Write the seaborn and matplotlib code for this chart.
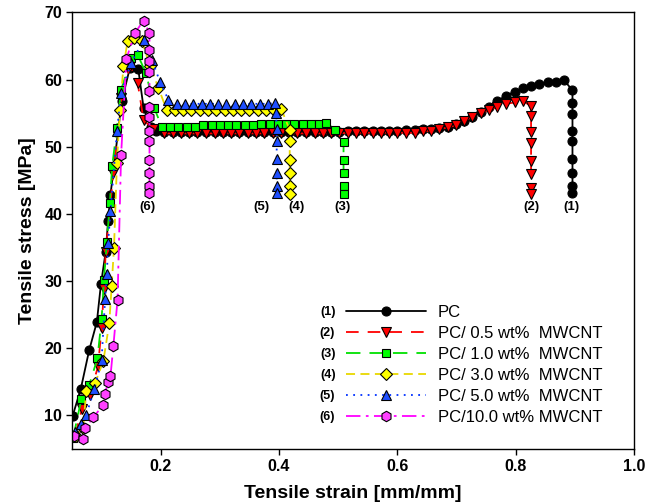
import matplotlib
matplotlib.use("Agg")
import matplotlib.pyplot as plt
from matplotlib import font_manager
import pandas as pd
import seaborn as sns

# ---------------- data: tensile strain [mm/mm] / tensile stress [MPa] ----------------
pc_strain = [0.051, 0.065, 0.079, 0.092, 0.099, 0.107, 0.111, 0.115, 0.134, 0.148, 0.162, 0.171, 0.183,
             0.192, 0.206, 0.220, 0.234, 0.248, 0.262, 0.276, 0.291, 0.305, 0.319, 0.333, 0.347, 0.361,
             0.375, 0.389, 0.403, 0.417, 0.431, 0.445, 0.460, 0.474, 0.488, 0.502, 0.516, 0.530, 0.544,
             0.558, 0.572, 0.586, 0.600, 0.614, 0.629, 0.643, 0.657, 0.671, 0.685, 0.699, 0.713, 0.727,
             0.741, 0.755, 0.769, 0.783, 0.798, 0.812, 0.826, 0.840, 0.854, 0.868, 0.882,
             0.896, 0.896, 0.896, 0.896, 0.896, 0.896, 0.896, 0.896, 0.896]
pc_stress = [9.9, 14.0, 19.7, 23.9, 29.6, 34.4, 38.9, 42.8, 56.8, 61.8, 61.6, 55.8, 52.9,
             52.3, 52.2, 52.2, 52.2, 52.2, 52.2, 52.2, 52.2, 52.2, 52.2, 52.2, 52.2, 52.2,
             52.2, 52.2, 52.2, 52.2, 52.2, 52.2, 52.2, 52.2, 52.2, 52.2, 52.3, 52.3, 52.3,
             52.3, 52.3, 52.4, 52.4, 52.5, 52.5, 52.6, 52.7, 52.8, 53.0, 53.4, 53.9, 54.5,
             55.2, 56.0, 56.8, 57.6, 58.2, 58.7, 59.1, 59.4, 59.6, 59.7, 59.9,
             58.4, 56.5, 54.9, 52.3, 50.9, 48.2, 46.1, 44.2, 43.1]

cnt05_strain = [0.055, 0.067, 0.080, 0.094, 0.100, 0.104, 0.107, 0.120, 0.133, 0.148, 0.161, 0.171, 0.187,
                0.206, 0.220, 0.234, 0.248, 0.262, 0.276, 0.291, 0.305, 0.319, 0.333, 0.347, 0.361,
                0.375, 0.389, 0.403, 0.417, 0.431, 0.445, 0.460, 0.474, 0.488, 0.502, 0.516, 0.530, 0.544,
                0.558, 0.572, 0.586, 0.600, 0.614, 0.629, 0.643, 0.657, 0.671, 0.685, 0.699, 0.713, 0.727,
                0.741, 0.755, 0.769, 0.783, 0.798, 0.812,
                0.826, 0.826, 0.826, 0.826, 0.826, 0.826, 0.826, 0.826]
cnt05_stress = [7.0, 11.0, 13.0, 17.3, 23.0, 28.8, 34.4, 46.1, 57.3, 62.0, 59.5, 54.0, 52.6,
                52.0, 52.0, 52.0, 52.0, 52.0, 52.0, 52.0, 52.0, 52.0, 52.0, 52.0, 52.0,
                52.0, 52.0, 52.0, 52.0, 52.0, 52.0, 52.0, 52.0, 52.0, 52.0, 52.1, 52.1, 52.1,
                52.1, 52.1, 52.1, 52.1, 52.1, 52.1, 52.3, 52.4, 52.6, 52.9, 53.2, 53.8, 54.5,
                55.0, 55.5, 55.9, 56.4, 56.6, 56.8,
                56.1, 54.6, 52.2, 50.6, 47.9, 45.9, 43.9, 42.9]

cnt10_strain = [0.052, 0.066, 0.079, 0.093, 0.100, 0.104, 0.109, 0.114, 0.118, 0.126, 0.133, 0.150, 0.161,
                0.175, 0.189, 0.202, 0.216, 0.230, 0.244, 0.258, 0.272, 0.286, 0.300, 0.314, 0.328,
                0.342, 0.356, 0.370, 0.384, 0.398, 0.412, 0.426, 0.440, 0.454, 0.468, 0.480, 0.495,
                0.509, 0.509, 0.509, 0.509, 0.509]
cnt10_stress = [6.7, 12.5, 14.5, 18.5, 24.3, 30.2, 35.9, 41.7, 47.2, 52.8, 58.5, 63.2, 63.7,
                61.0, 55.8, 52.9, 52.9, 52.9, 52.9, 52.9, 53.3, 53.3, 53.3, 53.3, 53.3,
                53.3, 53.3, 53.4, 53.4, 53.4, 53.4, 53.4, 53.4, 53.4, 53.4, 53.6, 52.5,
                50.7, 48.1, 46.1, 44.2, 43.0]

cnt30_strain = [0.057, 0.069, 0.074, 0.089, 0.103, 0.113, 0.117, 0.121, 0.126, 0.131, 0.137, 0.144, 0.155,
                0.168, 0.182, 0.196, 0.210, 0.224, 0.238, 0.252, 0.266, 0.280, 0.294, 0.308, 0.322,
                0.336, 0.350, 0.364, 0.378, 0.392, 0.404,
                0.418, 0.418, 0.418, 0.418, 0.418, 0.418]
cnt30_stress = [7.0, 8.2, 13.6, 14.8, 18.1, 23.7, 29.2, 35.0, 47.6, 55.5, 62.0, 65.7, 66.2,
                65.8, 62.0, 58.8, 55.5, 55.5, 55.5, 55.5, 55.5, 55.5, 55.5, 55.5, 55.5,
                55.5, 55.5, 55.5, 55.5, 55.5, 55.6,
                52.5, 50.9, 48.1, 46.1, 44.1, 43.0]

cnt50_strain = [0.055, 0.066, 0.074, 0.088, 0.100, 0.106, 0.109, 0.111, 0.115, 0.126, 0.133, 0.150, 0.171,
                0.185, 0.199, 0.213, 0.227, 0.241, 0.255, 0.269, 0.283, 0.297, 0.311, 0.325, 0.339,
                0.353, 0.367, 0.381, 0.393, 0.395,
                0.396, 0.396, 0.396, 0.396, 0.396, 0.396]
cnt50_stress = [7.5, 8.7, 10.1, 13.9, 18.2, 27.4, 31.0, 35.7, 40.4, 52.3, 58.0, 62.5, 65.9,
                63.0, 59.6, 57.0, 56.4, 56.4, 56.4, 56.4, 56.4, 56.4, 56.4, 56.4, 56.4,
                56.4, 56.4, 56.4, 56.5, 55.0,
                52.6, 50.9, 48.2, 46.1, 44.2, 43.1]

cnt100_strain = [0.053, 0.068, 0.072, 0.086, 0.102, 0.106, 0.111, 0.115, 0.120, 0.127, 0.133, 0.142, 0.156,
                 0.171, 0.181, 0.181, 0.181, 0.181, 0.181, 0.181, 0.181, 0.181, 0.181, 0.181, 0.181,
                 0.181, 0.181]
cnt100_stress = [7.0, 6.5, 8.1, 9.7, 11.5, 13.2, 15.0, 15.8, 20.4, 27.2, 48.8, 63.1, 66.9,
                 68.8, 66.9, 64.4, 62.8, 61.2, 58.3, 56.0, 54.5, 52.4, 50.8, 48.1, 46.1,
                 44.1, 43.1]

series_tags = ["(1)", "(2)", "(3)", "(4)", "(5)", "(6)"]
series_names = ["PC", "PC/ 0.5 wt%  MWCNT", "PC/ 1.0 wt%  MWCNT", "PC/ 3.0 wt%  MWCNT",
                "PC/ 5.0 wt%  MWCNT", "PC/10.0 wt% MWCNT"]
break_strain = [0.895, 0.826, 0.508, 0.430, 0.371, 0.178]

x_ticks = [0.2, 0.4, 0.6, 0.8, 1.0]
y_ticks = [10, 20, 30, 40, 50, 60, 70]


def first_font(names):
    for name in names:
        try:
            font_manager.findfont(font_manager.FontProperties(family=name),
                                  fallback_to_default=False)
            return name
        except Exception:
            continue
    return "DejaVu Sans"


sns.set_style("ticks", {"text.color": "black", "axes.labelcolor": "black",
                        "xtick.color": "black", "ytick.color": "black",
                        "axes.edgecolor": "black"})
sans = first_font(["Liberation Sans", "Arial", "DejaVu Sans"])
narrow = first_font(["Liberation Sans Narrow", "Liberation Sans", "DejaVu Sans"])
plt.rcParams["font.family"] = [sans, "DejaVu Sans"]
plt.rcParams["text.color"] = "black"

fig = plt.figure(figsize=(6.48, 5.04), dpi=100)
ax = fig.add_axes([0.1111, 0.1091, 0.8673, 0.8661])

styles = [
    dict(color="black", ls="-", marker="o", mfc="black", ms=6.5),
    dict(color="#FF0000", ls=(0, (7, 5)), marker="v", mfc="#FF0000", ms=7),
    dict(color="#00E000", ls=(0, (8, 5)), marker="s", mfc="#00FF00", ms=6),
    dict(color="#E8D800", ls=(0, (5, 3)), marker="D", mfc="#FFFF00", ms=6),
    dict(color="#0030FF", ls=(0, (1, 3)), marker="^", mfc="#1F4FFF", ms=7),
    dict(color="#FF00FF", ls=(0, (8, 3, 1.5, 3)), marker="h", mfc="#FF40FF", ms=7.5),
]
curves = [(pc_strain, pc_stress), (cnt05_strain, cnt05_stress), (cnt10_strain, cnt10_stress),
          (cnt30_strain, cnt30_stress), (cnt50_strain, cnt50_stress), (cnt100_strain, cnt100_stress)]

handles = []
for (xs, ys), st in zip(curves, styles):
    df = pd.DataFrame({"strain": xs, "stress": ys})
    sns.lineplot(data=df, x="strain", y="stress", ax=ax, sort=False, estimator=None,
                 color=st["color"], linestyle=st["ls"], linewidth=1.3,
                 marker=st["marker"], markersize=st["ms"], markerfacecolor=st["mfc"],
                 markeredgecolor="black", markeredgewidth=0.8, legend=False)
    handles.append(ax.lines[-1])

# break-point tags under each curve
for tag, xb in zip(series_tags, break_strain):
    ax.text(xb, 41.0, tag, ha="center", va="center", fontsize=9.5, fontweight="bold",
            color="black", family=[sans, "DejaVu Sans"])

ax.set_xlim(0.05, 1.0)
ax.set_ylim(5, 70)
ax.set_xticks(x_ticks)
ax.set_xticklabels([f"{t:.1f}" for t in x_ticks])
ax.set_yticks(y_ticks)
ax.set_yticklabels([str(t) for t in y_ticks])
for lab in ax.get_xticklabels() + ax.get_yticklabels():
    lab.set_fontfamily([narrow, "DejaVu Sans"])
    lab.set_fontweight("bold")
    lab.set_fontsize(11.5)
    lab.set_color("black")
ax.tick_params(direction="out", length=4, width=1, color="black", labelcolor="black",
               pad=3, top=False, right=False)
for sp in ax.spines.values():
    sp.set_visible(True)
    sp.set_linewidth(1.0)
    sp.set_color("black")

ax.set_xlabel("Tensile strain [mm/mm]", fontsize=14, fontweight="bold", color="black",
              family=[narrow, "DejaVu Sans"], labelpad=8)
ax.set_ylabel("Tensile stress [MPa]", fontsize=14, fontweight="bold", color="black",
              family=[narrow, "DejaVu Sans"], labelpad=6)

leg = ax.legend(handles=handles, labels=series_names, loc="upper left",
                bbox_to_anchor=(0.4875, 0.330), frameon=False, fontsize=12,
                handlelength=4.8, handletextpad=0.7, labelspacing=0.36,
                borderpad=0, borderaxespad=0, numpoints=1)
for t in leg.get_texts():
    t.set_color("black")

# row numbers to the left of each legend key
fig.canvas.draw()
renderer = fig.canvas.get_renderer()
inv = fig.transFigure.inverted()
for tag, txt, hl in zip(series_tags, leg.get_texts(), leg.legend_handles):
    tb = txt.get_window_extent(renderer)
    hb = hl.get_window_extent(renderer)
    xl = hb.x0 - 6
    yc = (tb.y0 + tb.y1) / 2
    fx, fy = inv.transform((xl, yc))
    fig.text(fx, fy, tag, ha="right", va="center", fontsize=9, fontweight="bold",
             color="black", family=[sans, "DejaVu Sans"])

fig.savefig("out.png", dpi=100)
